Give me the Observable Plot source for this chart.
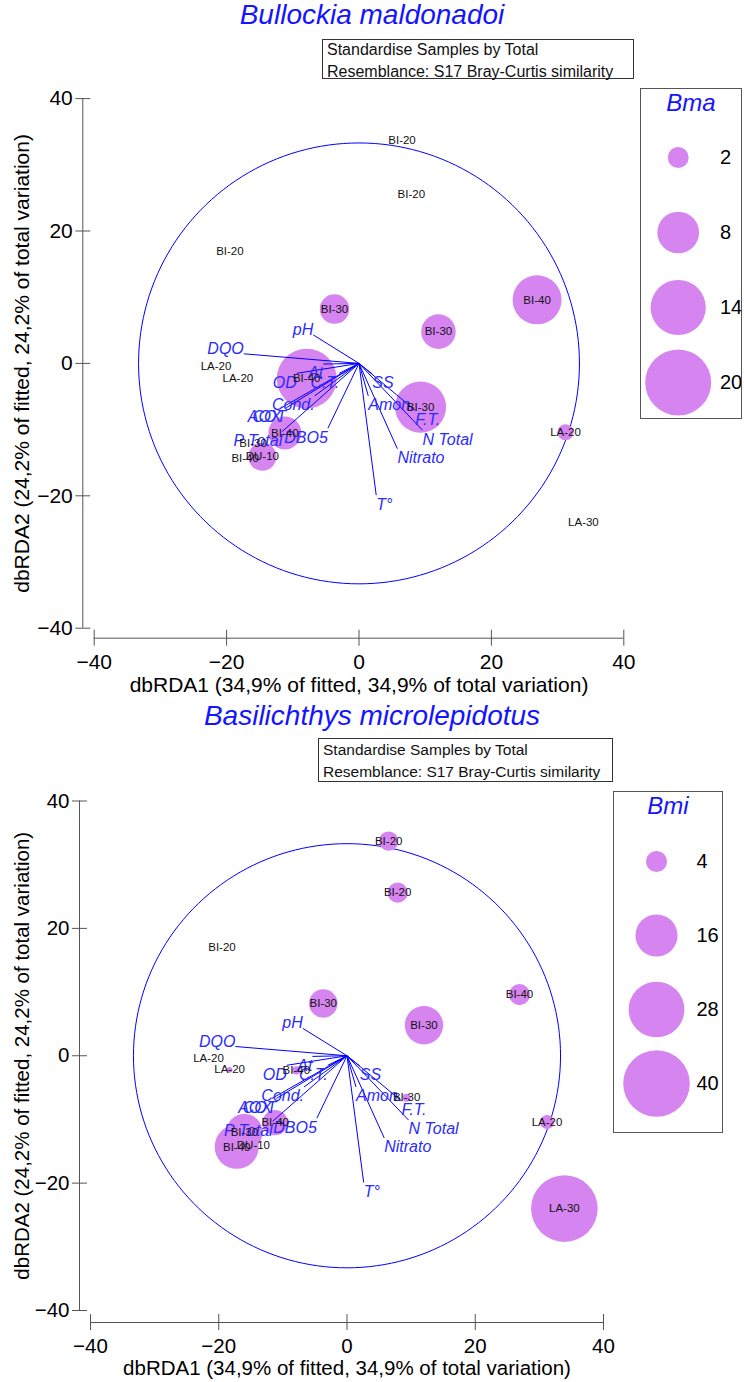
<!DOCTYPE html>
<html><head><meta charset="utf-8">
<script src="https://cdn.jsdelivr.net/npm/d3@7"></script>
<script src="https://cdn.jsdelivr.net/npm/@observablehq/plot@0.6"></script>
<style>
body{margin:0;background:#fff;font-family:Arial,"Liberation Sans",sans-serif;}
#root{position:relative;width:744px;height:1382px;overflow:hidden;background:#fff;}
.title{position:absolute;left:0;width:744px;text-align:center;font-style:italic;color:#1414ff;font-size:28px;white-space:nowrap;}
.info{position:absolute;border:1px solid #333;box-sizing:border-box;background:#fff;}
.info div{position:absolute;left:4px;white-space:nowrap;line-height:20px;color:#111;}
.legend{position:absolute;border:1px solid #555;box-sizing:border-box;background:#fff;}
.legend svg{position:absolute;left:0;top:0;}
.legtitle{position:absolute;left:0;width:100%;text-align:center;font-style:italic;color:#1414ff;font-size:24px;height:28px;line-height:28px;}
.plotwrap{position:absolute;left:0;}
</style></head><body><div id="root"></div><script>
// ---- data ----
const siteLabels = ["BI-20","BI-20","BI-20","BI-30","BI-30","BI-40","LA-20","LA-20","BI-40","BI-30","BI-40","BI-30","DU-10","BI-40","LA-20","LA-30"];
const siteX = [6.5, 7.9, -19.5, -3.7, 12.0, 26.9, -21.6, -18.3, -7.9, 9.3, -11.2, -16.0, -14.6, -17.2, 31.2, 33.9];
const siteY = [33.7, 25.6, 17.0, 8.2, 4.8, 9.6, -0.4, -2.2, -2.3, -6.6, -10.5, -12.0, -14.1, -14.3, -10.4, -24.0];
const bmaValues = [0, 0, 0, 4, 5.5, 11, 0, 0, 16.5, 12, 5, 0, 3.6, 0, 1.2, 0];
const bmiValues = [3.4, 3.7, 0, 7.3, 13.3, 4, 0, 0.3, 0.6, 0.6, 5.8, 12, 0, 17.5, 1.8, 40];
const vectorNames = ["pH","DQO","At","OD","C.T.","Cond.","AOX","COT","P Total","DBO5","SS","Amon.","F.T.","N Total","Nitrato","T°"];
const vectorX = [-6.9, -17.4, -5.4, -9.4, -3.0, -6.7, -11.7, -11.0, -11.6, -4.7, 2.0, 1.4, 8.5, 9.6, 5.8, 2.6];
const vectorY = [4.3, 1.45, -0.1, -1.5, -1.5, -4.9, -6.7, -6.7, -10.3, -9.8, -1.6, -4.9, -7.1, -10.1, -12.9, -19.9];
const axisTicks = [-40, -20, 0, 20, 40];
const circleRadius = 33.3;
const bmaLegend = [2, 8, 14, 20];
const bmiLegend = [4, 16, 28, 40];
const infoLines = ["Standardise Samples by Total", "Resemblance: S17 Bray-Curtis similarity"];
const xTitle = "dbRDA1 (34,9% of fitted, 34,9% of total variation)";
const yTitle = "dbRDA2 (24,2% of fitted, 24,2% of total variation)";

const BUBBLE = "#d684ef";
const BLUE = "#0000ff";
const root = document.getElementById("root");

function el(tag, cls, style, text) {
  const e = document.createElement(tag);
  if (cls) e.className = cls;
  Object.assign(e.style, style || {});
  if (text != null) e.textContent = text;
  return e;
}

function panel(cfg) {
  const sites = siteLabels.map((s, i) => ({label: s, x: siteX[i], y: siteY[i], v: cfg.values[i]}));
  const vecs = vectorNames.map((n, i) => ({name: n, x: vectorX[i], y: vectorY[i]}));
  const circ = d3.range(0, 361, 2).map(a => ({x: circleRadius * Math.cos(a * Math.PI / 180), y: circleRadius * Math.sin(a * Math.PI / 180)}));
  const [lo, hi] = d3.extent(axisTicks);
  const vlab = (fx, fy, anchor, line, dy) => Plot.text(vecs.filter(d => fx(d.x) && fy(d.y)), {
    x: "x", y: "y", text: "name", textAnchor: anchor, lineAnchor: line, dy,
    fill: "#2b2bff", fontStyle: "italic", fontSize: cfg.vecFont
  });
  const chart = Plot.plot({
    width: 744, height: cfg.height,
    marginLeft: cfg.ml, marginRight: cfg.mr, marginTop: cfg.mt, marginBottom: cfg.mb,
    x: {domain: [lo, hi], axis: null},
    y: {domain: [lo, hi], axis: null},
    r: {domain: [0, cfg.rMax], range: [0, cfg.rPx]},
    style: {fontFamily: "Arial, 'Liberation Sans', sans-serif", background: "transparent", color: "#000", overflow: "visible"},
    marks: [
      Plot.line(circ, {x: "x", y: "y", stroke: BLUE, strokeWidth: 1}),
      Plot.dot(sites.filter(d => d.v > 0), {x: "x", y: "y", r: "v", fill: BUBBLE, stroke: null}),
      Plot.link(vecs, {x1: () => 0, y1: () => 0, x2: "x", y2: "y", stroke: BLUE, strokeWidth: 1}),
      vlab(x => x < 0, y => y >= 0, "end", "bottom", 0),
      vlab(x => x < 0, y => y < 0, "end", "top", 3),
      vlab(x => x >= 0, y => y >= 0, "start", "bottom", 0),
      vlab(x => x >= 0, y => y < 0, "start", "top", 3),
      Plot.text(sites, {x: "x", y: "y", text: "label", fontSize: cfg.siteFont, fill: "#111", lineAnchor: "middle"}),
      // axes (offset PRIMER style)
      Plot.ruleY([lo], {x1: lo, x2: hi, dy: cfg.axDy, stroke: "#555"}),
      Plot.ruleX([lo], {y1: lo, y2: hi, dx: cfg.axDx, stroke: "#555"}),
      Plot.axisX(axisTicks, {anchor: "bottom", tickSize: 16, dy: cfg.axDy - 8, tickPadding: 8, fontSize: cfg.tickFont, label: null, stroke: "#555", fill: "#000"}),
      Plot.axisY(axisTicks, {anchor: "left", tickSize: 15, dx: cfg.axDx + 8, tickPadding: 3, fontSize: cfg.tickFont, label: null, stroke: "#555", fill: "#000"}),
      Plot.text([xTitle], {frameAnchor: "bottom", textAnchor: "middle", dy: cfg.xTitleDy, fontSize: cfg.titleFont, fill: "#000", lineAnchor: "middle"}),
      Plot.text([yTitle], {frameAnchor: "left", textAnchor: "middle", dx: cfg.yTitleDx, rotate: -90, fontSize: cfg.titleFont, fill: "#000", lineAnchor: "middle"})
    ]
  });
  // title
  root.appendChild(el("div", "title", {top: cfg.titleTop + "px", height: "32px", lineHeight: "32px"}, cfg.title));
  const wrap = el("div", "plotwrap", {top: cfg.top + "px"});
  wrap.appendChild(chart);
  root.appendChild(wrap);
  // info box
  const info = el("div", "info", {left: cfg.info[0] + "px", top: cfg.info[1] + "px", width: cfg.info[2] + "px", height: cfg.info[3] + "px"});
  infoLines.forEach((t, i) => info.appendChild(el("div", null, {top: (cfg.infoPad + i * 22) + "px", fontSize: cfg.infoFont + "px"}, t)));
  root.appendChild(info);
  // legend
  const L = cfg.legend;
  const box = el("div", "legend", {left: L.left + "px", top: L.top + "px", width: L.w + "px", height: L.h + "px"});
  const iw = L.w - 2, ih = L.h - 2;
  const leg = Plot.plot({
    width: iw, height: ih,
    marginLeft: 0, marginRight: iw - 2 * L.cx, marginTop: L.y0, marginBottom: ih - L.y1,
    x: {axis: null}, y: {type: "point", domain: cfg.legendValues, padding: 0, axis: null},
    r: {domain: [0, cfg.rMax], range: [0, cfg.rPx]},
    style: {fontFamily: "Arial, 'Liberation Sans', sans-serif", background: "transparent"},
    marks: [
      Plot.dot(cfg.legendValues, {y: d => d, r: d => d, fill: BUBBLE, stroke: null}),
      Plot.text(cfg.legendValues, {y: d => d, text: d => String(d), frameAnchor: "right", textAnchor: "start", dx: L.tdx, fontSize: L.font, fill: "#000"})
    ]
  });
  box.appendChild(leg);
  box.appendChild(el("div", "legtitle", {top: "0px"}, cfg.legendTitle));
  root.appendChild(box);
}

panel({
  title: "Bullockia maldonadoi", titleTop: -1,
  top: 30, height: 670, ml: 93.7, mr: 120.7, mt: 68.1, mb: 72.3,
  axDx: -11.4, axDy: 10, xTitleDy: 57, yTitleDx: -72,
  values: bmaValues, rMax: 20, rPx: 33, legendValues: bmaLegend, legendTitle: "Bma",
  vecFont: 16, siteFont: 11.5, tickFont: 21, titleFont: 21,
  info: [322, 39, 312, 40], infoPad: 0, infoFont: 16,
  legend: {left: 640, top: 88, w: 102, h: 331, cx: 36.7, y0: 67.7, y1: 292.7, tdx: 5, font: 20}
});
panel({
  title: "Basilichthys microlepidotus", titleTop: 700,
  top: 732, height: 650, ml: 90, mr: 141, mt: 68.5, mb: 72,
  axDx: -11, axDy: 12, xTitleDy: 58, yTitleDx: -68,
  values: bmiValues, rMax: 40, rPx: 33.3, legendValues: bmiLegend, legendTitle: "Bmi",
  vecFont: 16, siteFont: 11.5, tickFont: 20.5, titleFont: 20.5,
  info: [318, 738, 295, 44], infoPad: 1, infoFont: 15.5,
  legend: {left: 613, top: 791, w: 110, h: 342, cx: 42, y0: 67.3, y1: 292, tdx: -2, font: 20}
});
</script></body></html>
